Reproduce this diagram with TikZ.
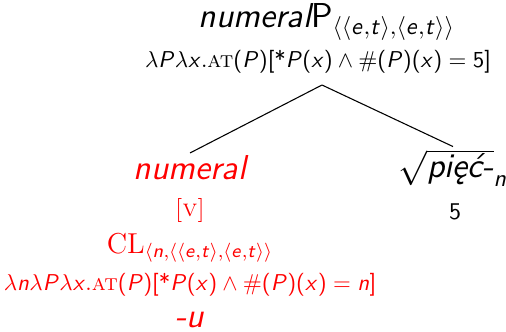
\documentclass[tikz,border=0pt]{standalone}
\usepackage[no-math]{fontspec}
% sans math letters and digits, greek and brackets stay serif
\SetSymbolFont{operators}{normal}{OT1}{cmss}{m}{n}
\DeclareSymbolFont{sfit}{OT1}{cmss}{m}{sl}
\def\sfl#1{\mathcode`#1=\numexpr"7000+\symsfit*"100+`#1\relax}
\sfl P\sfl x\sfl e\sfl t\sfl n
\newcommand{\at}{\textrm{\textsc{at}}}
\newcommand{\ty}{\langle\langle e,t\rangle,\langle e,t\rangle\rangle}
\newcommand{\st}{\mbox{*}}
\tikzset{
  lbl/.style={inner sep=1pt,font=\sffamily},
  sem/.style={lbl,scale=.955},
  big/.style={inner sep=1pt,font=\sffamily\Large},
  mid/.style={inner sep=1pt,font=\sffamily\large},
  hl/.style={text=red},
  branch/.style={line width=.45pt}
}
\begin{document}
\begin{tikzpicture}[x=0.01465cm,y=-0.01465cm]
 \useasboundingbox (0,0) rectangle (506,331);
 \node[big] (root) at (327,22) {\itshape numeral\upshape P$_{\ty}$};
 \node[sem] (rootsem) at (318,62) {$\lambda P\lambda x.\at(P)[\st P(x)\wedge\#(P)(x)=5]$};
 \coordinate (top) at (322,85);
 \node[big,hl] (num) at (190,168) {\itshape numeral};
 \node[big] (root5) at (453,168) {$\sqrt{\mbox{\itshape pięć-}}_n$};
 \draw[branch] (top) -- (num.north);
 \draw[branch] (top) -- (root5.north);
 \node[lbl,hl] (numv) at (190,210) {\textrm{\textsc{[v]}}};
 \node[lbl] (five) at (455,212) {5};
 \node[mid,hl] (numcl) at (190,248) {$\textrm{CL}_{\langle n,\langle\langle e,t\rangle,\langle e,t\rangle\rangle}$};
 \node[sem,hl] (numsem) at (190,285) {$\lambda n\lambda P\lambda x.\at(P)[\st P(x)\wedge\#(P)(x)=n]$};
 \node[big,hl,anchor=base] (numu) at (190,327) {\itshape -u};
\end{tikzpicture}
\end{document}
